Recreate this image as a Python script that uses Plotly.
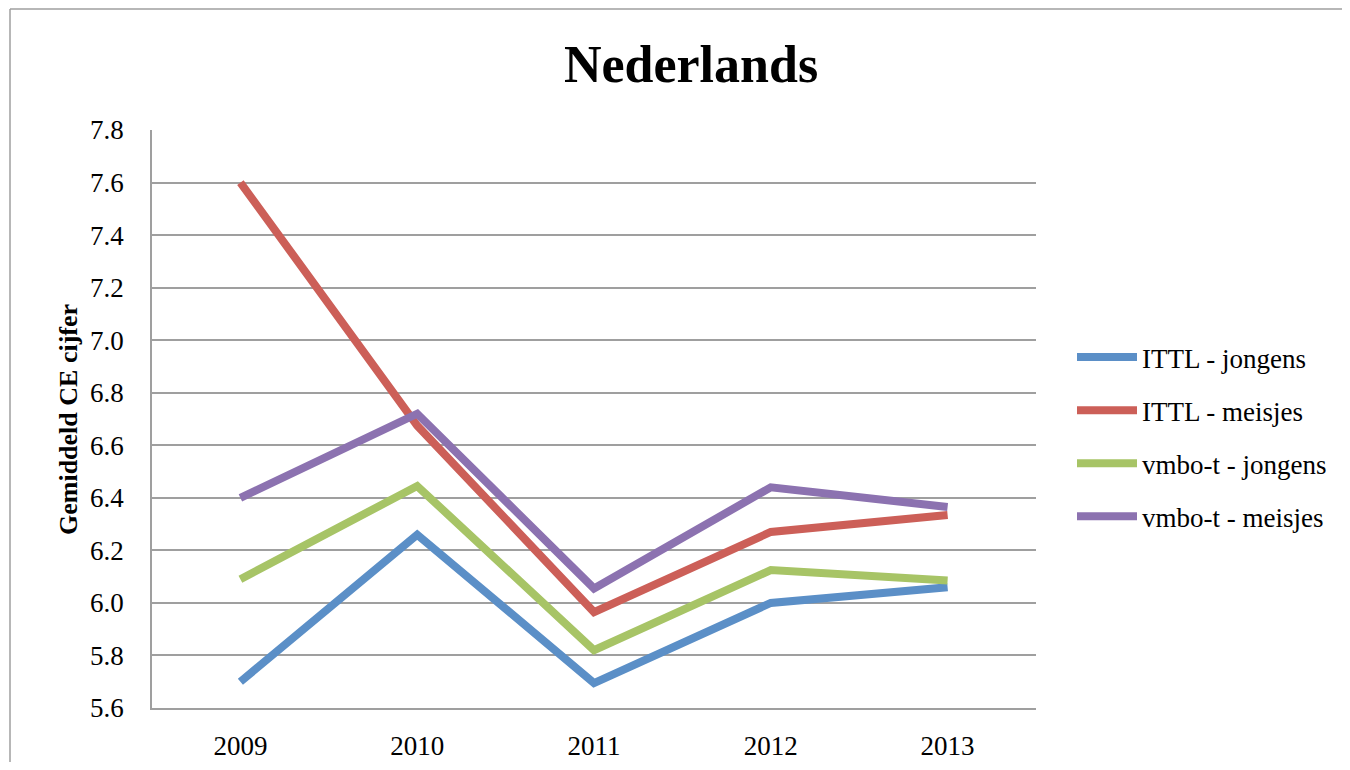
import plotly.graph_objects as go

years = ["2009", "2010", "2011", "2012", "2013"]
ittl_jongens = [5.70, 6.26, 5.695, 6.00, 6.06]
ittl_meisjes = [7.60, 6.675, 5.965, 6.27, 6.335]
vmbo_jongens = [6.09, 6.445, 5.82, 6.125, 6.085]
vmbo_meisjes = [6.40, 6.72, 6.055, 6.44, 6.365]

series = [
    ("ITTL - jongens", ittl_jongens, "#5b8fc7"),
    ("ITTL - meisjes", ittl_meisjes, "#cc5f58"),
    ("vmbo-t - jongens", vmbo_jongens, "#a7c466"),
    ("vmbo-t - meisjes", vmbo_meisjes, "#8c72b0"),
]
y_ticks = [5.6, 5.8, 6.0, 6.2, 6.4, 6.6, 6.8, 7.0, 7.2, 7.4, 7.6, 7.8]

FONT = "Liberation Serif"
OFF = 8  # page body margin
W, H = 1334, 754
L, T = 152 - OFF, 130 - OFF
R = W - (1036 - OFF)
B = H - (708 - OFF)

fig = go.Figure()
for i, (name, vals, col) in enumerate(series):
    fig.add_trace(go.Scatter(
        x=years, y=vals, name=name, mode="lines",
        line=dict(color=col, width=8),
        legendgroup=f"g{i}",
    ))

pw = W - L - R
ph = H - T - B
def px(x):
    return (x - OFF - L) / pw
def py(y):
    return (H - B - (y - OFF)) / ph

border = dict(color="#9f9f9f", width=1.5)

fig.update_layout(
    width=W, height=H,
    margin=dict(l=L, r=R, t=T, b=B, autoexpand=False),
    paper_bgcolor="white", plot_bgcolor="white",
    font=dict(family=FONT, size=27, color="black"),
    title=dict(text="<b>Nederlands</b>", font=dict(family=FONT, size=52, color="black"),
               x=(691 - OFF) / W, xref="container", xanchor="center",
               y=1 - (64 - OFF) / H, yref="container", yanchor="middle"),
    showlegend=True,
    legend=dict(x=px(1072), xanchor="left", y=py(437), yanchor="middle",
                font=dict(family=FONT, size=27), tracegroupgap=15,
                bgcolor="rgba(0,0,0,0)", itemwidth=60),
    xaxis=dict(type="category", range=[-0.5, 4.5], showgrid=False, automargin=False,
               showline=True, linecolor="#9f9f9f", linewidth=1.5,
               ticks="", ticklabelstandoff=13, tickfont=dict(size=27)),
    yaxis=dict(range=[5.6, 7.8], tickvals=y_ticks, tickformat=".1f", automargin=False,
               showgrid=True, gridcolor="#9f9f9f", gridwidth=1.5,
               showline=True, linecolor="#9f9f9f", linewidth=1.5,
               zeroline=False, ticks="", ticklabelstandoff=21,
               tickfont=dict(size=27)),
    annotations=[dict(text="<b>Gemiddeld CE cijfer</b>", xref="paper", yref="paper",
                      x=px(68), y=py(420), textangle=-90, showarrow=False,
                      font=dict(family=FONT, size=26, color="black"),
                      xanchor="center", yanchor="middle")],
    shapes=[
        dict(type="line", xref="paper", yref="paper",
             x0=px(10), x1=px(1342), y0=py(9), y1=py(9), line=border, layer="below"),
        dict(type="line", xref="paper", yref="paper",
             x0=px(10), x1=px(10), y0=py(9), y1=py(762), line=border, layer="below"),
    ],
)

fig.write_html("out.html")
